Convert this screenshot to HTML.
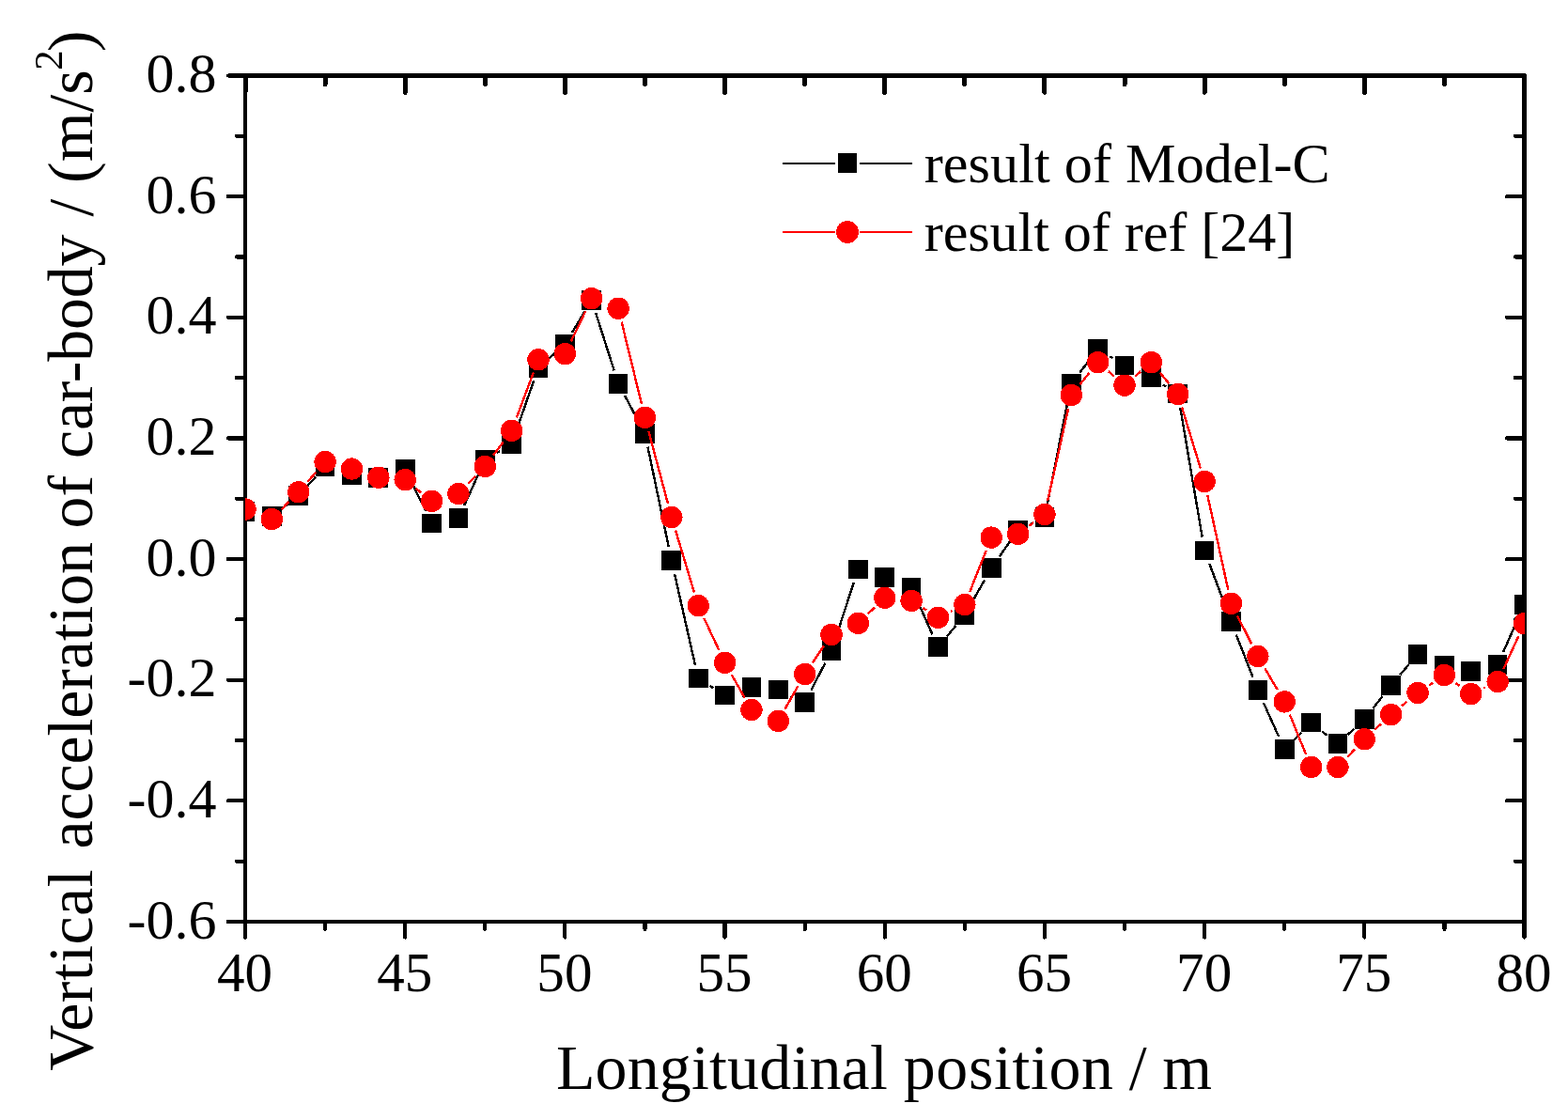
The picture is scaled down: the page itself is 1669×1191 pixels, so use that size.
<!DOCTYPE html>
<html lang="en"><head><meta charset="utf-8"><title>Vertical acceleration of car-body</title>
<style>html,body{margin:0;padding:0;background:#fff}body{width:1669px;height:1191px;overflow:hidden}svg{display:block}</style>
</head><body>
<svg width="1669" height="1191" viewBox="0 0 1669 1191" shape-rendering="crispEdges">
<rect width="1669" height="1191" fill="#fff"/>
<defs><clipPath id="c"><rect x="261.00" y="80.45" width="1362.00" height="900.55"/></clipPath></defs>
<g stroke="#000" fill="none"><line x1="261.10" y1="80.45" x2="261.10" y2="981.00" stroke-width="4.00" stroke-linecap="butt"/><line x1="1622.55" y1="80.45" x2="1622.55" y2="981.00" stroke-width="5.00" stroke-linecap="round"/><line x1="261.00" y1="80.45" x2="1622.55" y2="80.45" stroke-width="5.00" stroke-linecap="round"/><line x1="261.00" y1="981.00" x2="1622.55" y2="981.00" stroke-width="4.20" stroke-linecap="butt"/><line x1="261.00" y1="981.50" x2="261.00" y2="997.60" stroke-width="4.20" stroke-linecap="round"/><line x1="261.00" y1="80.45" x2="261.00" y2="98.30" stroke-width="5.00" stroke-linecap="round"/><line x1="346.09" y1="981.50" x2="346.09" y2="988.80" stroke-width="4.20" stroke-linecap="round"/><line x1="346.09" y1="80.45" x2="346.09" y2="89.50" stroke-width="5.00" stroke-linecap="round"/><line x1="431.19" y1="981.50" x2="431.19" y2="997.60" stroke-width="4.20" stroke-linecap="round"/><line x1="431.19" y1="80.45" x2="431.19" y2="98.30" stroke-width="5.00" stroke-linecap="round"/><line x1="516.28" y1="981.50" x2="516.28" y2="988.80" stroke-width="4.20" stroke-linecap="round"/><line x1="516.28" y1="80.45" x2="516.28" y2="89.50" stroke-width="5.00" stroke-linecap="round"/><line x1="601.38" y1="981.50" x2="601.38" y2="997.60" stroke-width="4.20" stroke-linecap="round"/><line x1="601.38" y1="80.45" x2="601.38" y2="98.30" stroke-width="5.00" stroke-linecap="round"/><line x1="686.47" y1="981.50" x2="686.47" y2="988.80" stroke-width="4.20" stroke-linecap="round"/><line x1="686.47" y1="80.45" x2="686.47" y2="89.50" stroke-width="5.00" stroke-linecap="round"/><line x1="771.56" y1="981.50" x2="771.56" y2="997.60" stroke-width="4.20" stroke-linecap="round"/><line x1="771.56" y1="80.45" x2="771.56" y2="98.30" stroke-width="5.00" stroke-linecap="round"/><line x1="856.66" y1="981.50" x2="856.66" y2="988.80" stroke-width="4.20" stroke-linecap="round"/><line x1="856.66" y1="80.45" x2="856.66" y2="89.50" stroke-width="5.00" stroke-linecap="round"/><line x1="941.75" y1="981.50" x2="941.75" y2="997.60" stroke-width="4.20" stroke-linecap="round"/><line x1="941.75" y1="80.45" x2="941.75" y2="98.30" stroke-width="5.00" stroke-linecap="round"/><line x1="1026.84" y1="981.50" x2="1026.84" y2="988.80" stroke-width="4.20" stroke-linecap="round"/><line x1="1026.84" y1="80.45" x2="1026.84" y2="89.50" stroke-width="5.00" stroke-linecap="round"/><line x1="1111.94" y1="981.50" x2="1111.94" y2="997.60" stroke-width="4.20" stroke-linecap="round"/><line x1="1111.94" y1="80.45" x2="1111.94" y2="98.30" stroke-width="5.00" stroke-linecap="round"/><line x1="1197.03" y1="981.50" x2="1197.03" y2="988.80" stroke-width="4.20" stroke-linecap="round"/><line x1="1197.03" y1="80.45" x2="1197.03" y2="89.50" stroke-width="5.00" stroke-linecap="round"/><line x1="1282.12" y1="981.50" x2="1282.12" y2="997.60" stroke-width="4.20" stroke-linecap="round"/><line x1="1282.12" y1="80.45" x2="1282.12" y2="98.30" stroke-width="5.00" stroke-linecap="round"/><line x1="1367.22" y1="981.50" x2="1367.22" y2="988.80" stroke-width="4.20" stroke-linecap="round"/><line x1="1367.22" y1="80.45" x2="1367.22" y2="89.50" stroke-width="5.00" stroke-linecap="round"/><line x1="1452.31" y1="981.50" x2="1452.31" y2="997.60" stroke-width="4.20" stroke-linecap="round"/><line x1="1452.31" y1="80.45" x2="1452.31" y2="98.30" stroke-width="5.00" stroke-linecap="round"/><line x1="1537.41" y1="981.50" x2="1537.41" y2="988.80" stroke-width="4.20" stroke-linecap="round"/><line x1="1537.41" y1="80.45" x2="1537.41" y2="89.50" stroke-width="5.00" stroke-linecap="round"/><line x1="1622.50" y1="981.50" x2="1622.50" y2="997.60" stroke-width="4.20" stroke-linecap="round"/><line x1="1622.50" y1="80.45" x2="1622.50" y2="98.30" stroke-width="5.00" stroke-linecap="round"/><line x1="260.60" y1="80.45" x2="243.00" y2="80.45" stroke-width="4.20" stroke-linecap="round"/><line x1="1622.55" y1="80.45" x2="1604.10" y2="80.45" stroke-width="4.20" stroke-linecap="round"/><line x1="260.60" y1="144.77" x2="252.00" y2="144.77" stroke-width="4.20" stroke-linecap="round"/><line x1="1622.55" y1="144.77" x2="1613.00" y2="144.77" stroke-width="4.20" stroke-linecap="round"/><line x1="260.60" y1="209.10" x2="243.00" y2="209.10" stroke-width="4.20" stroke-linecap="round"/><line x1="1622.55" y1="209.10" x2="1604.10" y2="209.10" stroke-width="4.20" stroke-linecap="round"/><line x1="260.60" y1="273.43" x2="252.00" y2="273.43" stroke-width="4.20" stroke-linecap="round"/><line x1="1622.55" y1="273.43" x2="1613.00" y2="273.43" stroke-width="4.20" stroke-linecap="round"/><line x1="260.60" y1="337.75" x2="243.00" y2="337.75" stroke-width="4.20" stroke-linecap="round"/><line x1="1622.55" y1="337.75" x2="1604.10" y2="337.75" stroke-width="4.20" stroke-linecap="round"/><line x1="260.60" y1="402.07" x2="252.00" y2="402.07" stroke-width="4.20" stroke-linecap="round"/><line x1="1622.55" y1="402.07" x2="1613.00" y2="402.07" stroke-width="4.20" stroke-linecap="round"/><line x1="260.60" y1="466.40" x2="243.00" y2="466.40" stroke-width="4.20" stroke-linecap="round"/><line x1="1622.55" y1="466.40" x2="1604.10" y2="466.40" stroke-width="4.20" stroke-linecap="round"/><line x1="260.60" y1="530.73" x2="252.00" y2="530.73" stroke-width="4.20" stroke-linecap="round"/><line x1="1622.55" y1="530.73" x2="1613.00" y2="530.73" stroke-width="4.20" stroke-linecap="round"/><line x1="260.60" y1="595.05" x2="243.00" y2="595.05" stroke-width="4.20" stroke-linecap="round"/><line x1="1622.55" y1="595.05" x2="1604.10" y2="595.05" stroke-width="4.20" stroke-linecap="round"/><line x1="260.60" y1="659.38" x2="252.00" y2="659.38" stroke-width="4.20" stroke-linecap="round"/><line x1="1622.55" y1="659.38" x2="1613.00" y2="659.38" stroke-width="4.20" stroke-linecap="round"/><line x1="260.60" y1="723.70" x2="243.00" y2="723.70" stroke-width="4.20" stroke-linecap="round"/><line x1="1622.55" y1="723.70" x2="1604.10" y2="723.70" stroke-width="4.20" stroke-linecap="round"/><line x1="260.60" y1="788.03" x2="252.00" y2="788.03" stroke-width="4.20" stroke-linecap="round"/><line x1="1622.55" y1="788.03" x2="1613.00" y2="788.03" stroke-width="4.20" stroke-linecap="round"/><line x1="260.60" y1="852.35" x2="243.00" y2="852.35" stroke-width="4.20" stroke-linecap="round"/><line x1="1622.55" y1="852.35" x2="1604.10" y2="852.35" stroke-width="4.20" stroke-linecap="round"/><line x1="260.60" y1="916.68" x2="252.00" y2="916.68" stroke-width="4.20" stroke-linecap="round"/><line x1="1622.55" y1="916.68" x2="1613.00" y2="916.68" stroke-width="4.20" stroke-linecap="round"/><line x1="260.60" y1="981.00" x2="243.00" y2="981.00" stroke-width="4.20" stroke-linecap="round"/><line x1="1622.55" y1="981.00" x2="1604.10" y2="981.00" stroke-width="4.20" stroke-linecap="round"/></g>
<g clip-path="url(#c)">
<path d="M301.00 540.52L306.09 536.58M327.65 516.75L336.17 507.45M437.65 512.30L453.09 543.80M494.02 538.13L510.18 502.67M528.97 481.88L531.96 480.12M549.48 458.82L568.17 405.18M584.10 381.65L590.29 376.25M608.92 353.99L622.19 331.81M634.20 333.21L653.64 394.19M665.03 421.17L679.54 448.33M689.48 475.69L711.82 582.31M718.08 611.04L739.95 707.76M755.61 729.98L759.15 732.22M841.56 740.42L843.38 741.28M863.41 734.55L878.26 705.85M889.59 678.83L908.82 619.97M976.13 638.71L992.47 675.19M1007.91 677.33L1017.41 665.97M1034.09 641.91L1047.97 617.39M1063.64 592.56L1075.14 576.14M1096.88 557.86L1098.63 557.04M1114.81 536.38L1137.43 422.82M1149.25 396.73L1159.72 383.07M1181.18 379.12L1184.52 381.18M1237.97 409.52L1241.19 411.48M1256.22 433.59L1279.66 571.51M1287.28 599.77L1305.34 648.03M1315.83 675.49L1333.51 720.81M1344.88 747.91L1361.19 784.19M1377.59 787.18L1385.21 779.52M1407.06 778.29L1412.47 782.61M1434.75 781.83L1441.51 775.57M1461.38 754.03L1471.61 740.97M1490.23 718.22L1499.49 707.38M1600.09 693.96L1616.54 656.84" stroke="#000" stroke-width="2.40" fill="none"/>
<g fill="#000"><rect x="250.65" y="534.05" width="20.70" height="20.70"/><rect x="279.01" y="539.15" width="20.70" height="20.70"/><rect x="307.38" y="517.25" width="20.70" height="20.70"/><rect x="335.74" y="486.25" width="20.70" height="20.70"/><rect x="364.11" y="495.35" width="20.70" height="20.70"/><rect x="392.47" y="498.35" width="20.70" height="20.70"/><rect x="420.84" y="488.75" width="20.70" height="20.70"/><rect x="449.20" y="546.65" width="20.70" height="20.70"/><rect x="477.57" y="541.15" width="20.70" height="20.70"/><rect x="505.93" y="478.95" width="20.70" height="20.70"/><rect x="534.30" y="462.35" width="20.70" height="20.70"/><rect x="562.66" y="380.95" width="20.70" height="20.70"/><rect x="591.02" y="356.25" width="20.70" height="20.70"/><rect x="619.39" y="308.85" width="20.70" height="20.70"/><rect x="647.75" y="397.85" width="20.70" height="20.70"/><rect x="676.12" y="450.95" width="20.70" height="20.70"/><rect x="704.48" y="586.35" width="20.70" height="20.70"/><rect x="732.85" y="711.75" width="20.70" height="20.70"/><rect x="761.21" y="729.75" width="20.70" height="20.70"/><rect x="789.58" y="721.15" width="20.70" height="20.70"/><rect x="817.94" y="723.75" width="20.70" height="20.70"/><rect x="846.31" y="737.25" width="20.70" height="20.70"/><rect x="874.67" y="682.45" width="20.70" height="20.70"/><rect x="903.04" y="595.65" width="20.70" height="20.70"/><rect x="931.40" y="604.05" width="20.70" height="20.70"/><rect x="959.76" y="614.95" width="20.70" height="20.70"/><rect x="988.13" y="678.25" width="20.70" height="20.70"/><rect x="1016.49" y="644.35" width="20.70" height="20.70"/><rect x="1044.86" y="594.25" width="20.70" height="20.70"/><rect x="1073.22" y="553.75" width="20.70" height="20.70"/><rect x="1101.59" y="540.45" width="20.70" height="20.70"/><rect x="1129.95" y="398.05" width="20.70" height="20.70"/><rect x="1158.32" y="361.05" width="20.70" height="20.70"/><rect x="1186.68" y="378.55" width="20.70" height="20.70"/><rect x="1215.05" y="391.55" width="20.70" height="20.70"/><rect x="1243.41" y="408.75" width="20.70" height="20.70"/><rect x="1271.78" y="575.65" width="20.70" height="20.70"/><rect x="1300.14" y="651.45" width="20.70" height="20.70"/><rect x="1328.50" y="724.15" width="20.70" height="20.70"/><rect x="1356.87" y="787.25" width="20.70" height="20.70"/><rect x="1385.23" y="758.75" width="20.70" height="20.70"/><rect x="1413.60" y="781.45" width="20.70" height="20.70"/><rect x="1441.96" y="755.25" width="20.70" height="20.70"/><rect x="1470.33" y="719.05" width="20.70" height="20.70"/><rect x="1498.69" y="685.85" width="20.70" height="20.70"/><rect x="1527.06" y="697.75" width="20.70" height="20.70"/><rect x="1555.42" y="703.95" width="20.70" height="20.70"/><rect x="1583.79" y="697.05" width="20.70" height="20.70"/><rect x="1612.15" y="633.05" width="20.70" height="20.70"/></g>
<path d="M299.70 542.04L307.40 534.26M327.45 512.77L336.38 502.63M442.65 519.90L448.08 524.25M498.18 515.02L506.02 506.98M525.05 484.65L535.87 470.10M549.81 444.54L567.85 396.46M607.74 363.45L623.37 330.95M661.59 342.58L682.98 430.12M690.27 458.60L711.04 536.30M719.07 564.58L738.96 630.62M749.42 658.02L765.34 692.08M778.80 718.19L792.68 742.71M835.56 754.62L849.39 730.28M864.87 705.31L876.81 687.59M924.03 653.16L931.10 646.44M982.55 647.25L986.05 649.45M1011.72 650.91L1013.61 649.99M1032.26 629.94L1049.79 585.76M1095.41 559.68L1100.10 556.22M1115.14 533.15L1137.10 434.85M1149.59 409.11L1159.38 397.09M1179.79 395.31L1185.91 400.59M1208.16 400.59L1214.27 395.31M1234.85 396.96L1244.31 408.24M1258.05 433.56L1277.84 498.44M1285.26 526.86L1307.35 628.04M1317.11 655.52L1332.23 685.48M1346.30 711.28L1359.77 734.22M1372.77 760.51L1390.04 802.89M1434.10 805.87L1442.16 797.43M1463.11 776.83L1469.88 770.57M1492.06 751.29L1497.66 746.71M1521.27 729.25L1525.17 726.65M1549.40 727.00L1553.78 730.10M1579.12 732.44L1580.79 731.66M1600.27 712.14L1616.37 677.06" stroke="#f00" stroke-width="2.40" fill="none"/>
<g fill="#f00"><circle cx="261.00" cy="542.00" r="11.70"/><circle cx="289.36" cy="552.50" r="11.70"/><circle cx="317.73" cy="523.80" r="11.70"/><circle cx="346.09" cy="491.60" r="11.70"/><circle cx="374.46" cy="499.10" r="11.70"/><circle cx="402.82" cy="508.20" r="11.70"/><circle cx="431.19" cy="510.70" r="11.70"/><circle cx="459.55" cy="533.45" r="11.70"/><circle cx="487.92" cy="525.55" r="11.70"/><circle cx="516.28" cy="496.45" r="11.70"/><circle cx="544.65" cy="458.30" r="11.70"/><circle cx="573.01" cy="382.70" r="11.70"/><circle cx="601.38" cy="376.70" r="11.70"/><circle cx="629.74" cy="317.70" r="11.70"/><circle cx="658.10" cy="328.30" r="11.70"/><circle cx="686.47" cy="444.40" r="11.70"/><circle cx="714.83" cy="550.50" r="11.70"/><circle cx="743.20" cy="644.70" r="11.70"/><circle cx="771.56" cy="705.40" r="11.70"/><circle cx="799.93" cy="755.50" r="11.70"/><circle cx="828.29" cy="767.40" r="11.70"/><circle cx="856.66" cy="717.50" r="11.70"/><circle cx="885.02" cy="675.40" r="11.70"/><circle cx="913.39" cy="663.30" r="11.70"/><circle cx="941.75" cy="636.30" r="11.70"/><circle cx="970.11" cy="639.40" r="11.70"/><circle cx="998.48" cy="657.30" r="11.70"/><circle cx="1026.84" cy="643.60" r="11.70"/><circle cx="1055.21" cy="572.10" r="11.70"/><circle cx="1083.57" cy="568.40" r="11.70"/><circle cx="1111.94" cy="547.50" r="11.70"/><circle cx="1140.30" cy="420.50" r="11.70"/><circle cx="1168.67" cy="385.70" r="11.70"/><circle cx="1197.03" cy="410.20" r="11.70"/><circle cx="1225.40" cy="385.70" r="11.70"/><circle cx="1253.76" cy="419.50" r="11.70"/><circle cx="1282.12" cy="512.50" r="11.70"/><circle cx="1310.49" cy="642.40" r="11.70"/><circle cx="1338.85" cy="698.60" r="11.70"/><circle cx="1367.22" cy="746.90" r="11.70"/><circle cx="1395.58" cy="816.50" r="11.70"/><circle cx="1423.95" cy="816.50" r="11.70"/><circle cx="1452.31" cy="786.80" r="11.70"/><circle cx="1480.68" cy="760.60" r="11.70"/><circle cx="1509.04" cy="737.40" r="11.70"/><circle cx="1537.41" cy="718.50" r="11.70"/><circle cx="1565.77" cy="738.60" r="11.70"/><circle cx="1594.14" cy="725.50" r="11.70"/><circle cx="1622.50" cy="663.70" r="11.70"/></g>
</g>
<g font-family="'Liberation Serif', serif" font-size="60.00" fill="#000" text-anchor="middle">
<text transform="translate(260.50 1055.00) scale(0.985 1)">40</text>
<text transform="translate(430.69 1055.00) scale(0.985 1)">45</text>
<text transform="translate(600.88 1055.00) scale(0.985 1)">50</text>
<text transform="translate(771.06 1055.00) scale(0.985 1)">55</text>
<text transform="translate(941.25 1055.00) scale(0.985 1)">60</text>
<text transform="translate(1111.44 1055.00) scale(0.985 1)">65</text>
<text transform="translate(1281.62 1055.00) scale(0.985 1)">70</text>
<text transform="translate(1451.81 1055.00) scale(0.985 1)">75</text>
<text transform="translate(1622.00 1055.00) scale(0.985 1)">80</text>
</g>
<g font-family="'Liberation Serif', serif" font-size="60.00" fill="#000" text-anchor="end">
<text x="230.40" y="98.05">0.8</text>
<text x="230.40" y="226.70">0.6</text>
<text x="230.40" y="355.35">0.4</text>
<text x="230.40" y="484.00">0.2</text>
<text x="230.40" y="612.65">0.0</text>
<text x="230.40" y="741.30">-0.2</text>
<text x="230.40" y="869.95">-0.4</text>
<text x="230.40" y="998.60">-0.6</text>
</g>
<path d="M832.90 174.00H889.05M914.95 174.00H971.10" stroke="#000" stroke-width="2.20" fill="none"/>
<rect x="891.65" y="163.15" width="20.70" height="20.70" fill="#000"/>
<path d="M832.90 246.85H889.05M914.95 246.85H971.10" stroke="#f00" stroke-width="2.20" fill="none"/>
<circle cx="902.00" cy="247.00" r="12.00" fill="#f00"/>
<g font-family="'Liberation Serif', serif" font-size="60.20" fill="#000">
<text x="983.70" y="194.00" textLength="432.00" lengthAdjust="spacing">result of Model-C</text>
<text x="983.70" y="267.00" textLength="394.50" lengthAdjust="spacing">result of ref [24]</text>
</g>
<text transform="translate(590.00 1159.00) scale(0.9900 1)" font-family="'Liberation Serif', serif" font-size="68.60" fill="#000"><tspan x="1.94" y="0.00" letter-spacing="0.189">Longitudinal</tspan> <tspan x="375.54" y="0.00" letter-spacing="0.619">position</tspan> <tspan x="617.88" y="0.00">/</tspan> <tspan x="653.75" y="0.00">m</tspan></text>
<text transform="translate(98.20 1140.00) rotate(-90) scale(0.9900 1)" font-family="'Liberation Serif', serif" font-size="68.60" fill="#000"><tspan x="0.36" y="0.00" letter-spacing="0.438">Vertical</tspan> <tspan x="238.94" y="0.00" letter-spacing="-0.140">acceleration</tspan> <tspan x="583.33" y="0.00">of</tspan> <tspan x="658.59" y="0.00" letter-spacing="-0.221">car-body</tspan> <tspan x="918.79" y="0.00">/</tspan> <tspan x="954.68" y="0.00" letter-spacing="-0.079">(m/s</tspan><tspan x="1076.00" y="-32.30" font-size="43.00">2</tspan><tspan x="1095.73" y="0.00">)</tspan></text>
</svg>
</body></html>
